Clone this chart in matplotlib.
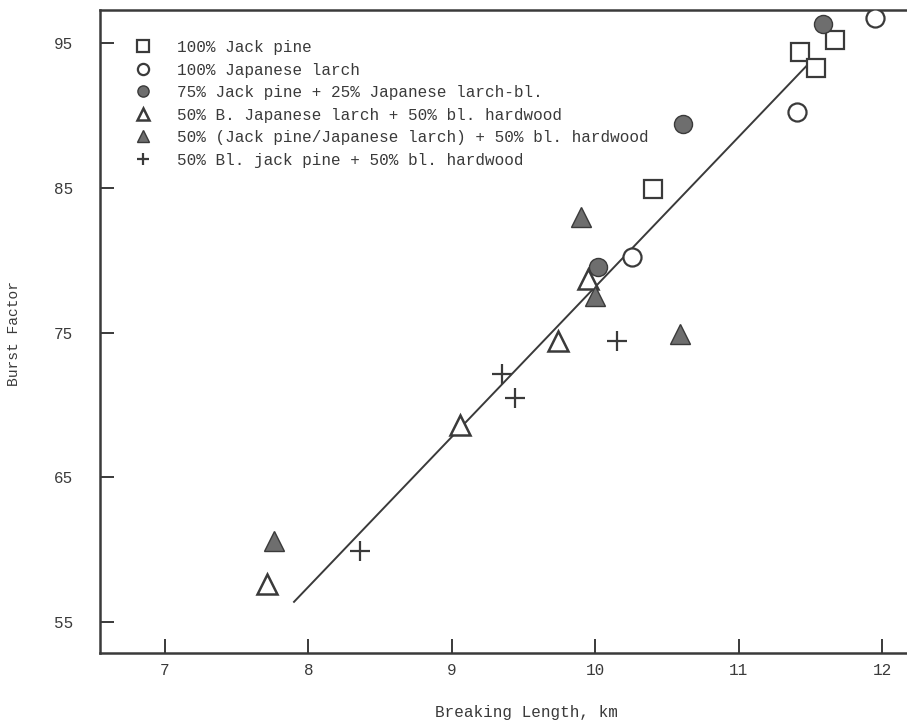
import matplotlib
matplotlib.use("Agg")
import matplotlib.pyplot as plt

# Breaking length (km) and burst factor for each furnish
jack_pine_x = [11.43, 11.54, 11.67, 10.40]
jack_pine_y = [94.4, 93.3, 95.2, 84.9]

larch_x = [11.95, 11.41, 10.26]
larch_y = [96.7, 90.2, 80.2]

jp75_larch25_x = [11.59, 10.61, 10.02]
jp75_larch25_y = [96.3, 89.4, 79.5]

larch50_hw50_x = [7.71, 9.06, 9.74, 9.95]
larch50_hw50_y = [57.6, 68.6, 74.4, 78.7]

mix50_hw50_x = [7.76, 9.90, 10.00, 10.59]
mix50_hw50_y = [60.6, 83.0, 77.5, 74.9]

jp50_hw50_x = [8.36, 9.35, 9.44, 10.15]
jp50_hw50_y = [59.9, 72.1, 70.5, 74.4]

series_labels = [
    "100% Jack pine",
    "100% Japanese larch",
    "75% Jack pine + 25% Japanese larch-bl.",
    "50% B. Japanese larch + 50% bl. hardwood",
    "50% (Jack pine/Japanese larch) + 50% bl. hardwood",
    "50% Bl. jack pine + 50% bl. hardwood",
]

# Fitted regression line
fit_intercept = -25.45
fit_slope = 10.36
fit_x = [7.90, 11.50]

x_ticks = [7, 8, 9, 10, 11, 12]
y_ticks = [55, 65, 75, 85, 95]

ink = "#3a3a3a"
fill = "#6e6e6e"

plt.rcParams["font.family"] = ["Liberation Mono", "DejaVu Sans Mono"]

W, H = 907, 726
fig = plt.figure(figsize=(W / 100, H / 100), dpi=100)
ax = fig.add_axes([100 / W, 1 - 653 / H, 825 / W, 643 / H])

fit_y = [fit_intercept + fit_slope * v for v in fit_x]
ax.plot(fit_x, fit_y, color=ink, lw=1.4, zorder=2)

common = dict(ls="none", zorder=3)
ax.plot(jack_pine_x, jack_pine_y, marker="s", ms=13.5, mfc="white", mec=ink, mew=1.6,
        label=series_labels[0], **common)
ax.plot(larch_x, larch_y, marker="o", ms=13, mfc="white", mec=ink, mew=1.6,
        label=series_labels[1], **common)
ax.plot(jp75_larch25_x, jp75_larch25_y, marker="o", ms=13, mfc=fill, mec=ink, mew=1.0,
        label=series_labels[2], **common)
ax.plot(larch50_hw50_x, larch50_hw50_y, marker="^", ms=15, mfc="white", mec=ink, mew=1.8,
        label=series_labels[3], **common)
ax.plot(mix50_hw50_x, mix50_hw50_y, marker="^", ms=15, mfc=fill, mec=ink, mew=1.0,
        label=series_labels[4], **common)
ax.plot(jp50_hw50_x, jp50_hw50_y, marker="+", ms=15, mec=ink, mew=1.6,
        label=series_labels[5], **common)

ax.set_xlim(6.547, 12.3)
ax.set_ylim(52.86, 97.28)
ax.set_xticks(x_ticks)
ax.set_yticks(y_ticks)
ax.tick_params(axis="x", direction="in", length=10, width=1.4, color=ink,
               labelsize=11.5, labelcolor=ink, pad=7)
ax.tick_params(axis="y", direction="in", length=10, width=1.4, color=ink,
               labelsize=11.5, labelcolor=ink, pad=19.5)
for s in ["left", "bottom", "top"]:
    ax.spines[s].set_color(ink)
    ax.spines[s].set_linewidth(1.8)
ax.spines["right"].set_visible(False)

fig.text(526 / W, 1 - 712 / H, "Breaking Length, km", fontsize=11.5, color=ink,
         ha="center", va="center")
fig.text(14 / W, 1 - 334 / H, "Burst Factor", fontsize=10.5, color=ink,
         rotation=90, ha="center", va="center")

leg = ax.legend(loc="upper left", bbox_to_anchor=(135 / W, 1 - 40 / H),
                bbox_transform=fig.transFigure, frameon=False,
                markerscale=0.62, fontsize=11.5, handlelength=1.0, handletextpad=1.6,
                labelspacing=0.47, borderaxespad=0.0, borderpad=0.0)
for t in leg.get_texts():
    t.set_color(ink)

fig.savefig("out.png", dpi=100)
